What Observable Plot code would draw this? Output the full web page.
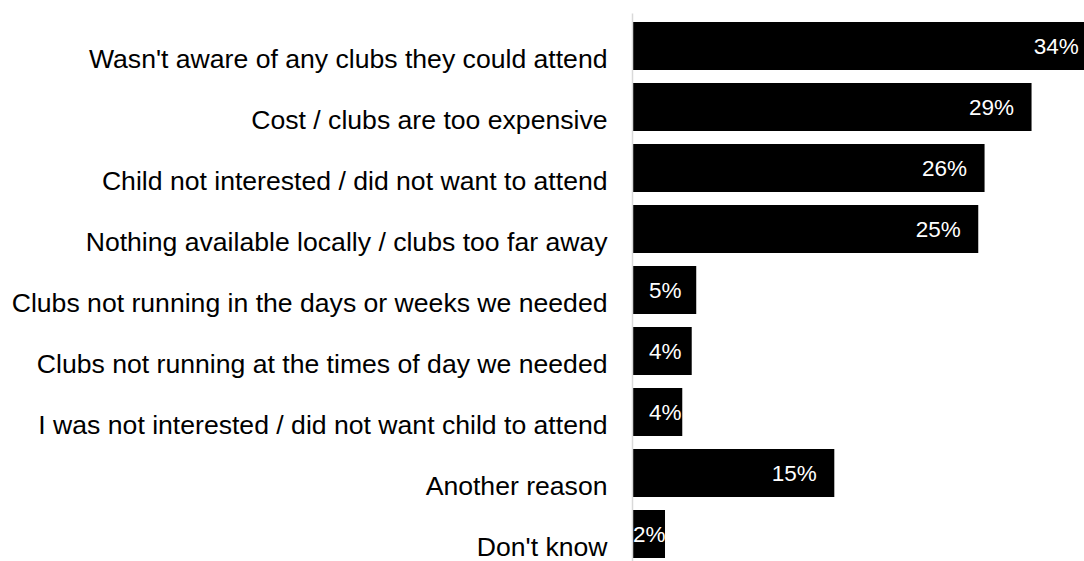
<!DOCTYPE html>
<html><head><meta charset="utf-8">
<script src="https://cdn.jsdelivr.net/npm/d3@7"></script>
<script src="https://cdn.jsdelivr.net/npm/@observablehq/plot@0.6"></script>
<style>html,body{margin:0;padding:0;background:#fff;overflow:hidden}</style>
</head><body><div id="chart"></div>
<script>
const categories = [
  "Wasn't aware of any clubs they could attend",
  "Cost / clubs are too expensive",
  "Child not interested / did not want to attend",
  "Nothing available locally / clubs too far away",
  "Clubs not running in the days or weeks we needed",
  "Clubs not running at the times of day we needed",
  "I was not interested / did not want child to attend",
  "Another reason",
  "Don't know"
];
const values = [33.9, 29.17, 25.74, 25.28, 4.69, 4.36, 3.67, 14.77, 2.41];

const data = categories.map((c, i) => ({category: c, value: values[i]}));
// label placement rule: inside end, but not pushed back past a minimum offset
const labelInset = 1.31, labelMin = 3.58;
const labels = data.map(d => ({
  category: d.category,
  x: Math.max(d.value - labelInset, Math.min(d.value, labelMin)),
  text: Math.round(d.value) + "%"
}));

const chart = Plot.plot({
  width: 1084,
  height: 561,
  marginLeft: 632,
  marginRight: 0,
  marginTop: 13.5,
  marginBottom: -6,
  style: {fontFamily: "'Liberation Sans', Arial, sans-serif", overflow: "hidden", background: "#fff", color: "#000"},
  x: {domain: [0, 33], axis: null},
  y: {domain: categories, paddingInner: 0.22, paddingOuter: 0.11, label: null},
  marks: [
    Plot.barX(data, {x: "value", y: "category", fill: "#000"}),
    Plot.ruleX([0], {stroke: "#d9d9d9", strokeWidth: 1.5}),
    Plot.text(labels, {x: "x", y: "category", text: "text", textAnchor: "end", fill: "#fff", fontSize: 22.5}),
    Plot.axisY({tickSize: 0, tickPadding: 25, fontSize: 26.6, dy: 12.5, fill: "#000", label: null})
  ]
});
document.getElementById("chart").appendChild(chart);
</script>
</body></html>
